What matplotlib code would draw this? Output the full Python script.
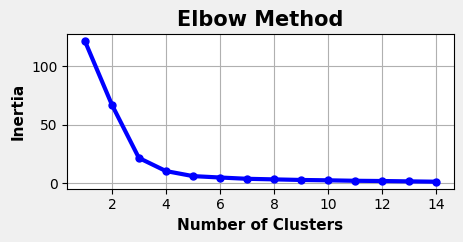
import matplotlib
matplotlib.use("Agg")
import matplotlib.pyplot as plt

# inertia per number of clusters
n_clusters = list(range(1, 15))
inertia = [121.5, 67.0, 21.5, 10.3, 6.0, 4.8, 3.7, 3.2, 2.7, 2.4, 2.0, 1.8, 1.5, 1.2]

fig, ax = plt.subplots(figsize=(4.64, 2.42), dpi=100)
fig.patch.set_facecolor("#f0f0f0")
ax.plot(n_clusters, inertia, marker="o", color="blue", lw=3, markersize=5)
ax.set_title("Elbow Method", fontsize=15, fontweight="bold")
ax.set_xlabel("Number of Clusters", fontsize=11, fontweight="bold")
ax.set_ylabel("Inertia", fontsize=11, fontweight="bold")
ax.grid(True, color="#b0b0b0")
ax.set_xticks([2, 4, 6, 8, 10, 12, 14])

fig.subplots_adjust(left=0.145, right=0.978, top=0.86, bottom=0.22)
fig.savefig("out.png", facecolor=fig.get_facecolor())
